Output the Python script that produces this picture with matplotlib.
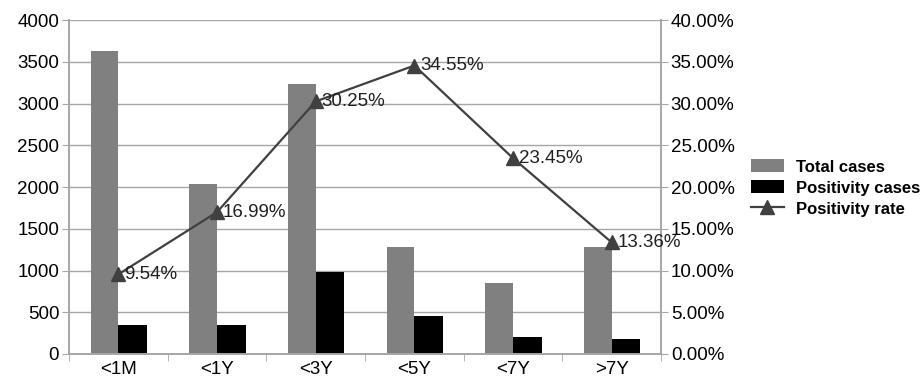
import numpy as np
import matplotlib
matplotlib.use("Agg")
import matplotlib.pyplot as plt
from matplotlib.ticker import FuncFormatter, FixedLocator

plt.rcParams['font.family'] = ['Liberation Sans', 'DejaVu Sans']

groups = ['<1M', '<1Y', '<3Y', '<5Y', '<7Y', '>7Y']
total_cases = [3630, 2035, 3230, 1285, 854, 1285]
positive_cases = [346, 346, 977, 450, 205, 175]
positivity_rate = [9.54, 16.99, 30.25, 34.55, 23.45, 13.36]

grid_col = '#a6a6a6'

fig = plt.figure(figsize=(9.22, 3.82), dpi=100)
ax = fig.add_axes([0.0748, 0.0733, 0.6422, 0.8743])
ax2 = ax.twinx()

x = np.arange(len(groups))
w = 0.28
b1 = ax.bar(x - w / 2, total_cases, w, color='#808080', label='Total cases', zorder=2)
b2 = ax.bar(x + w / 2 + 0.005, positive_cases, w + 0.01, color='#000000',
            label='Positivity cases', zorder=2)

ax.set_xlim(-0.5, len(groups) - 0.5)
ax.set_ylim(0, 4000)
ax.set_yticks(np.arange(0, 4001, 500))
ax.yaxis.grid(True, color=grid_col, linewidth=1)
ax.set_axisbelow(True)
ax.set_xticks(x)
ax.set_xticklabels(groups, fontsize=13.5)
ax.xaxis.set_minor_locator(FixedLocator(np.arange(-0.5, len(groups), 1)))
ax.tick_params(axis='x', which='major', length=0, pad=5)
ax.tick_params(axis='x', which='minor', length=5, color=grid_col)
ax.tick_params(axis='y', labelsize=13.5, length=5, color=grid_col, pad=2)

for a in (ax, ax2):
    a.spines['top'].set_visible(False)
    for s in ('left', 'right', 'bottom'):
        a.spines[s].set_color(grid_col)
        a.spines[s].set_linewidth(1.2)

ax2.set_ylim(0, 40)
ax2.set_yticks(np.arange(0, 41, 5))
ax2.yaxis.set_major_formatter(FuncFormatter(lambda v, p: '%.2f%%' % v))
ax2.tick_params(axis='y', labelsize=13.5, length=5, color=grid_col, pad=2)
ln, = ax2.plot(x, positivity_rate, color='#404040', linewidth=1.6, marker='^',
               markersize=9.5, label='Positivity rate', zorder=3)
for xi, r in zip(x, positivity_rate):
    ax2.annotate('%.2f%%' % r, (xi, r), xytext=(4, 0), textcoords='offset points',
                 va='center', ha='left', fontsize=13.5, color='#202020')

fig.legend(handles=[b1, b2, ln], loc='center left', bbox_to_anchor=(0.807, 0.508),
           frameon=False, prop={'weight': 'bold', 'size': 12}, handlelength=2.0,
           handleheight=0.8, labelspacing=0.35, handletextpad=0.7, borderaxespad=0)

fig.savefig('out.png', dpi=100)
